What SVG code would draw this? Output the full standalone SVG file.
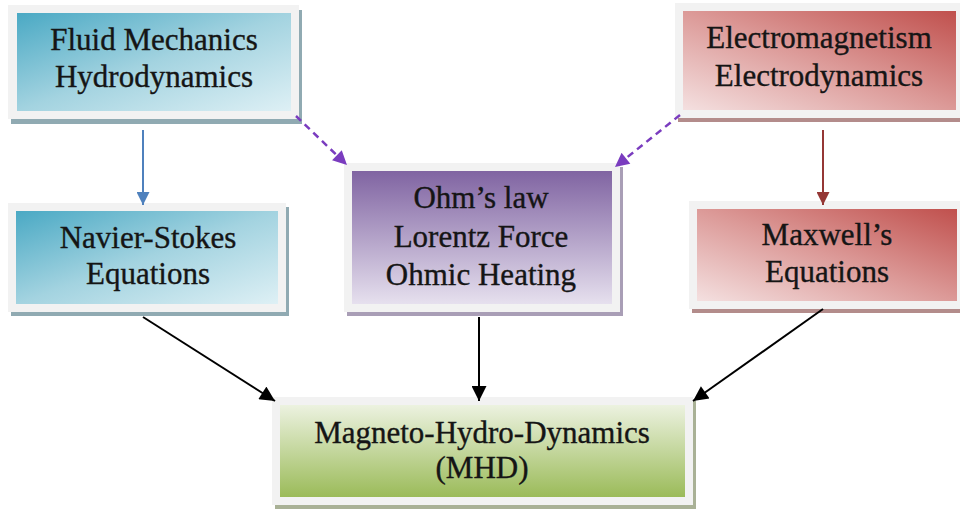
<svg xmlns="http://www.w3.org/2000/svg" width="960" height="510" viewBox="0 0 960 510">
  <defs>
    <linearGradient id="gBlue" x1="0" y1="0" x2="1" y2="1">
      <stop offset="0" stop-color="#4aa9c4"/>
      <stop offset="0.5" stop-color="#a3d3e0"/>
      <stop offset="1" stop-color="#def0f5"/>
    </linearGradient>
    <linearGradient id="gRed" x1="1" y1="0" x2="0" y2="1">
      <stop offset="0" stop-color="#c0504d"/>
      <stop offset="0.5" stop-color="#dc9a98"/>
      <stop offset="1" stop-color="#f4e0e0"/>
    </linearGradient>
    <linearGradient id="gPurple" x1="0" y1="0" x2="0" y2="1">
      <stop offset="0" stop-color="#8064a2"/>
      <stop offset="1" stop-color="#e6e0ee"/>
    </linearGradient>
    <linearGradient id="gGreen" x1="0" y1="0" x2="0" y2="1">
      <stop offset="0" stop-color="#ecf2e0"/>
      <stop offset="1" stop-color="#9bbb59"/>
    </linearGradient>
    <marker id="aBlue" viewBox="0 0 10 10" refX="10" refY="5" markerUnits="userSpaceOnUse" markerWidth="14" markerHeight="13" orient="auto">
      <path d="M0,0 L10,5 L0,10 z" fill="#4f81bd"/>
    </marker>
    <marker id="aRed" viewBox="0 0 10 10" refX="10" refY="5" markerUnits="userSpaceOnUse" markerWidth="14" markerHeight="13" orient="auto">
      <path d="M0,0 L10,5 L0,10 z" fill="#953735"/>
    </marker>
    <marker id="aPurple" viewBox="0 0 10 10" refX="10" refY="5" markerUnits="userSpaceOnUse" markerWidth="15" markerHeight="14" orient="auto">
      <path d="M0,0 L10,5 L0,10 z" fill="#7a3cbf"/>
    </marker>
    <marker id="aBlack" viewBox="0 0 10 10" refX="10" refY="5" markerUnits="userSpaceOnUse" markerWidth="16" markerHeight="15" orient="auto">
      <path d="M0,0 L10,5 L0,10 z" fill="#000"/>
    </marker>
  </defs>
  <style>
    .frame { fill: #f2f2f2; }
    .label { font-family: "Liberation Serif", "DejaVu Serif", serif; font-size: 31px; fill: #151515; stroke: #151515; stroke-width: 0.35; text-anchor: middle; }
    .blueShadow { fill: #90aab2; }
    .redShadow { fill: #b38c8b; }
    .purpleShadow { fill: #a99eb6; }
    .greenShadow { fill: #a9b196; }
    .conn { fill: none; stroke-width: 2; }
    .dash { stroke: #7a3cbf; stroke-width: 2.5; stroke-dasharray: 7 5; }
  </style>

  <rect width="960" height="510" fill="#ffffff"/>

  <!-- Fluid Mechanics / Hydrodynamics -->
  <g id="fluid">
    <rect class="blueShadow" x="11" y="10" width="291" height="114"/>
    <rect class="frame" x="8" y="5" width="291" height="114"/>
    <rect x="17" y="13" width="274" height="98" fill="url(#gBlue)"/>
    <text class="label" x="154" y="50">Fluid Mechanics</text>
    <text class="label" x="154" y="87">Hydrodynamics</text>
  </g>

  <!-- Navier-Stokes Equations -->
  <g id="navier">
    <rect class="blueShadow" x="11" y="207" width="278" height="109"/>
    <rect class="frame" x="8" y="203" width="278" height="109"/>
    <rect x="16" y="211" width="262" height="93" fill="url(#gBlue)"/>
    <text class="label" x="148" y="248">Navier-Stokes</text>
    <text class="label" x="148" y="284">Equations</text>
  </g>

  <!-- Ohm's law / Lorentz Force / Ohmic Heating -->
  <g id="ohm">
    <rect class="purpleShadow" x="347" y="167" width="276" height="149"/>
    <rect class="frame" x="344" y="163" width="276" height="149"/>
    <rect x="352" y="171" width="260" height="133" fill="url(#gPurple)"/>
    <text class="label" x="481" y="208">Ohm’s law</text>
    <text class="label" x="481" y="247">Lorentz Force</text>
    <text class="label" x="481" y="285">Ohmic Heating</text>
  </g>

  <!-- Electromagnetism / Electrodynamics -->
  <g id="electro">
    <rect class="redShadow" x="678" y="7" width="288" height="115"/>
    <rect class="frame" x="675" y="3" width="288" height="115"/>
    <rect x="683" y="11" width="273" height="99" fill="url(#gRed)"/>
    <text class="label" x="819" y="48">Electromagnetism</text>
    <text class="label" x="819" y="86">Electrodynamics</text>
  </g>

  <!-- Maxwell's Equations -->
  <g id="maxwell">
    <rect class="redShadow" x="692" y="205" width="274" height="108"/>
    <rect class="frame" x="689" y="201" width="274" height="108"/>
    <rect x="697" y="209" width="260" height="92" fill="url(#gRed)"/>
    <text class="label" x="827" y="245">Maxwell’s</text>
    <text class="label" x="827" y="282">Equations</text>
  </g>

  <!-- Magneto-Hydro-Dynamics (MHD) -->
  <g id="mhd">
    <rect class="greenShadow" x="275" y="401" width="421" height="108"/>
    <rect class="frame" x="272" y="397" width="421" height="108"/>
    <rect x="280" y="405" width="405" height="92" fill="url(#gGreen)"/>
    <text class="label" x="482" y="443">Magneto-Hydro-Dynamics</text>
    <text class="label" x="482" y="478">(MHD)</text>
  </g>

  <!-- connectors -->
  <g id="connectors">
    <line class="conn" x1="143" y1="130" x2="143" y2="205" stroke="#4f81bd" marker-end="url(#aBlue)"/>
    <line class="conn" x1="823" y1="130" x2="823" y2="205" stroke="#953735" marker-end="url(#aRed)"/>
    <line class="conn dash" x1="296" y1="116" x2="347" y2="165" marker-end="url(#aPurple)"/>
    <line class="conn dash" x1="680" y1="115" x2="615" y2="167" marker-end="url(#aPurple)"/>
    <line class="conn" x1="143" y1="317" x2="275" y2="401" stroke="#000" marker-end="url(#aBlack)"/>
    <line class="conn" x1="479" y1="317" x2="479" y2="401" stroke="#000" marker-end="url(#aBlack)"/>
    <line class="conn" x1="823" y1="309" x2="693" y2="401" stroke="#000" marker-end="url(#aBlack)"/>
  </g>
</svg>
